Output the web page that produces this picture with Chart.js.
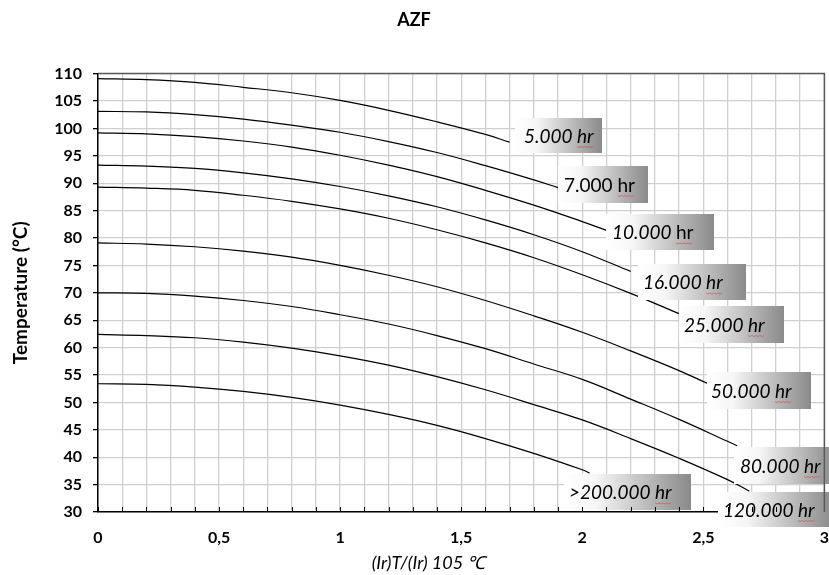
<!DOCTYPE html>
<html>
<head>
<meta charset="utf-8">
<title>AZF</title>
<script src="https://cdn.jsdelivr.net/npm/chart.js@4.4.1/dist/chart.umd.min.js"></script>
<style>
  html, body { margin: 0; padding: 0; background: #fff; }
  #wrap { width: 829px; height: 575px; overflow: hidden; }
  canvas { display: block; }
</style>
</head>
<body>
<div id="wrap"><canvas id="lifeChart" width="845" height="575"></canvas></div>
<script>
// Life curves: ripple current ratio vs. temperature
const seriesNames = ['5.000 hr', '7.000 hr', '10.000 hr', '16.000 hr', '25.000 hr',
                     '50.000 hr', '80.000 hr', '120.000 hr', '>200.000 hr'];

const x5k   = [0, 0.2, 0.4, 0.6, 0.8, 1.0, 1.2, 1.4, 1.6, 1.7];
const t5k   = [109.1, 108.9, 108.4, 107.5, 106.5, 105.1, 103.3, 101.2, 98.9, 97.5];
const x7k   = [0, 0.2, 0.4, 0.6, 0.8, 1.0, 1.2, 1.4, 1.6, 1.8, 1.9];
const t7k   = [103.1, 103.0, 102.5, 101.7, 100.6, 99.3, 97.6, 95.6, 93.2, 90.6, 89.2];
const x10k  = [0, 0.2, 0.4, 0.6, 0.8, 1.0, 1.2, 1.4, 1.6, 1.8, 2.0, 2.1];
const t10k  = [99.2, 99.0, 98.5, 97.7, 96.6, 95.1, 93.3, 91.2, 88.7, 86.0, 83.0, 81.4];
const x16k  = [0, 0.2, 0.4, 0.6, 0.8, 1.0, 1.2, 1.4, 1.6, 1.8, 2.0, 2.2];
const t16k  = [93.3, 93.1, 92.7, 91.9, 90.8, 89.4, 87.7, 85.7, 83.3, 80.6, 77.5, 73.9];
const x25k  = [0, 0.2, 0.4, 0.6, 0.8, 1.0, 1.2, 1.4, 1.6, 1.8, 2.0, 2.2, 2.4];
const t25k  = [89.3, 89.1, 88.7, 87.8, 86.7, 85.3, 83.6, 81.5, 79.1, 76.4, 73.3, 69.9, 66.2];
const x50k  = [0, 0.2, 0.4, 0.6, 0.8, 1.0, 1.2, 1.4, 1.6, 1.8, 2.0, 2.2, 2.4, 2.52];
const t50k  = [79.1, 78.9, 78.4, 77.6, 76.5, 75.0, 73.2, 71.1, 68.6, 65.8, 62.8, 59.4, 55.8, 53.4];
const x80k  = [0, 0.2, 0.4, 0.6, 0.8, 1.0, 1.2, 1.4, 1.6, 1.8, 2.0, 2.2, 2.4, 2.6, 2.64];
const t80k  = [70.0, 69.9, 69.4, 68.6, 67.5, 66.0, 64.3, 62.2, 59.8, 57.0, 54.2, 50.6, 46.9, 42.9, 42.1];
const x120k = [0, 0.2, 0.4, 0.6, 0.8, 1.0, 1.2, 1.4, 1.6, 1.8, 2.0, 2.2, 2.4, 2.6, 2.69];
const t120k = [62.4, 62.2, 61.8, 61.0, 59.9, 58.5, 56.8, 54.7, 52.3, 49.6, 46.8, 43.4, 39.8, 35.9, 33.8];
const x200k = [0, 0.2, 0.4, 0.6, 0.8, 1.0, 1.2, 1.4, 1.6, 1.8, 2.0, 2.03];
const t200k = [53.4, 53.3, 52.8, 52.0, 50.9, 49.5, 47.8, 45.8, 43.4, 40.7, 37.7, 37.1];

const seriesX = [x5k, x7k, x10k, x16k, x25k, x50k, x80k, x120k, x200k];
const seriesT = [t5k, t7k, t10k, t16k, t25k, t50k, t80k, t120k, t200k];

const xTickLabels = ['0', '0,5', '1', '1,5', '2', '2,5', '3'];
const xAxisTitle = '(Ir)T/(Ir) 105 \u2103';
const yAxisTitle = 'Temperature (\u00b0C)';

// label box placement, offset in px from the end of each curve
const labelBoxes = [
    { dx: 5,   dy: -24, w: 87,  h: 35, pad: 9, numItalic: true,  hrItalic: true },
    { dx: 0,   dy: -22, w: 90,  h: 37, pad: 6, numItalic: false, hrItalic: false },
    { dx: 0,   dy: -16, w: 108, h: 36, pad: 6, numItalic: true,  hrItalic: false },
    { dx: 7,   dy: -7,  w: 108, h: 36, pad: 5, numItalic: true,  hrItalic: true },
    { dx: 0,   dy: -8,  w: 105, h: 37, pad: 5, numItalic: true,  hrItalic: true },
    { dx: -1,  dy: -12, w: 104, h: 37, pad: 4, numItalic: true,  hrItalic: true },
    { dx: -3,  dy: 1,   w: 100, h: 37, pad: 6, numItalic: true,  hrItalic: true },
    { dx: -31, dy: 1,   w: 115, h: 35, pad: 5, numItalic: true,  hrItalic: true },
    { dx: -26, dy: 1,   w: 127, h: 36, pad: 5, numItalic: true,  hrItalic: true }
];

const FONT = 'Lato, "Open Sans", sans-serif';
Chart.defaults.font.family = FONT;
Chart.defaults.color = '#000';

// draws the gradient boxes with hour labels at the end of each curve
const curveLabels = {
    id: 'curveLabels',
    afterDatasetsDraw(chart) {
        const { ctx, scales: { x, y } } = chart;
        ctx.save();
        labelBoxes.forEach((b, i) => {
            const xs = seriesX[i], ts = seriesT[i];
            const ex = x.getPixelForValue(xs[xs.length - 1]);
            const ey = y.getPixelForValue(ts[ts.length - 1]);
            const bx = Math.round(ex + b.dx), by = Math.round(ey + b.dy);

            const g = ctx.createLinearGradient(bx, 0, bx + b.w, 0);
            g.addColorStop(0, '#ffffff');
            g.addColorStop(0.25, '#f6f6f6');
            g.addColorStop(1, '#8a8a8a');
            ctx.fillStyle = g;
            ctx.fillRect(bx, by, b.w, b.h);

            const [num, hr] = seriesNames[i].split(' ');
            const ty = by + b.h / 2 + 1;
            ctx.textBaseline = 'middle';
            ctx.fillStyle = '#000';
            let tx = bx + b.pad;
            ctx.font = (b.numItalic ? 'italic ' : '') + '19px ' + FONT;
            ctx.fillText(num + ' ', tx, ty);
            tx += ctx.measureText(num + ' ').width;
            ctx.font = (b.hrItalic ? 'italic ' : '') + '19px ' + FONT;
            ctx.fillText(hr, tx, ty);
            const hw = ctx.measureText(hr).width;

            // spell-check squiggle under "hr"
            ctx.strokeStyle = 'rgba(220, 70, 70, 0.8)';
            ctx.lineWidth = 0.8;
            ctx.beginPath();
            for (let k = 0; k <= hw; k += 2) {
                const yy = ty + 10 + ((k / 2) % 2 ? 1 : 0);
                if (k === 0) ctx.moveTo(tx + k, yy); else ctx.lineTo(tx + k, yy);
            }
            ctx.stroke();
        });
        ctx.restore();
    },
    afterDraw(chart) {
        const { ctx, chartArea: a, scales: { x } } = chart;
        ctx.save();
        // inside minor ticks on the x axis
        ctx.strokeStyle = '#000';
        ctx.lineWidth = 1;
        x.ticks.forEach(t => {
            const px = Math.round(x.getPixelForValue(t.value)) + 0.5;
            ctx.beginPath();
            ctx.moveTo(px, a.bottom);
            ctx.lineTo(px, a.bottom - 5);
            ctx.stroke();
        });
        // top and right frame
        ctx.strokeStyle = '#595959';
        ctx.lineWidth = 1.5;
        ctx.beginPath();
        ctx.moveTo(a.left, a.top);
        ctx.lineTo(a.right, a.top);
        ctx.lineTo(a.right, a.bottom);
        ctx.stroke();
        // x axis title
        ctx.font = 'italic 18px ' + FONT;
        ctx.fillStyle = '#000';
        ctx.textAlign = 'center';
        ctx.textBaseline = 'middle';
        ctx.fillText(xAxisTitle, a.left + 0.455 * (a.right - a.left), 563);
        ctx.restore();
    }
};

const ctx = document.getElementById('lifeChart').getContext('2d');
new Chart(ctx, {
    type: 'line',
    data: {
        datasets: seriesNames.map((name, i) => ({
            label: name,
            data: seriesX[i].map((v, k) => ({ x: v, y: seriesT[i][k] })),
            borderColor: '#000',
            borderWidth: 1.2,
            pointRadius: 0,
            tension: 0.4,
            fill: false
        }))
    },
    options: {
        responsive: false,
        animation: false,
        devicePixelRatio: 1,
        layout: { padding: { left: 0, right: 17, top: 0, bottom: 0 } },
        plugins: {
            legend: { display: false },
            tooltip: { enabled: false },
            title: {
                display: true,
                text: 'AZF',
                color: '#000',
                font: { size: 18, weight: 'bold' },
                padding: { top: 9, bottom: 43 }
            }
        },
        scales: {
            x: {
                type: 'linear',
                min: 0,
                max: 3,
                afterFit: s => { s.height = 63; },
                ticks: {
                    stepSize: 0.1,
                    autoSkip: false,
                    maxRotation: 0,
                    padding: 16,
                    font: { size: 16, weight: 'bold' },
                    callback: v => {
                        const k = Math.round(v * 10);
                        return k % 5 === 0 ? xTickLabels[k / 5] : '';
                    }
                },
                grid: { color: '#cfcfcf', lineWidth: 1.3, drawTicks: false },
                border: { color: '#000', width: 1.5 }
            },
            y: {
                min: 30,
                max: 110,
                afterFit: s => { s.width = 98; },
                ticks: {
                    stepSize: 5,
                    padding: 11,
                    font: { size: 16, weight: 'bold' }
                },
                grid: { color: '#cfcfcf', lineWidth: 1.3, tickLength: 5, tickColor: '#000' },
                border: { color: '#000', width: 1.5 },
                title: {
                    display: true,
                    text: yAxisTitle,
                    font: { size: 19, weight: 'bold' },
                    padding: { top: 9, bottom: 0 }
                }
            }
        }
    },
    plugins: [curveLabels]
});
</script>
</body>
</html>
